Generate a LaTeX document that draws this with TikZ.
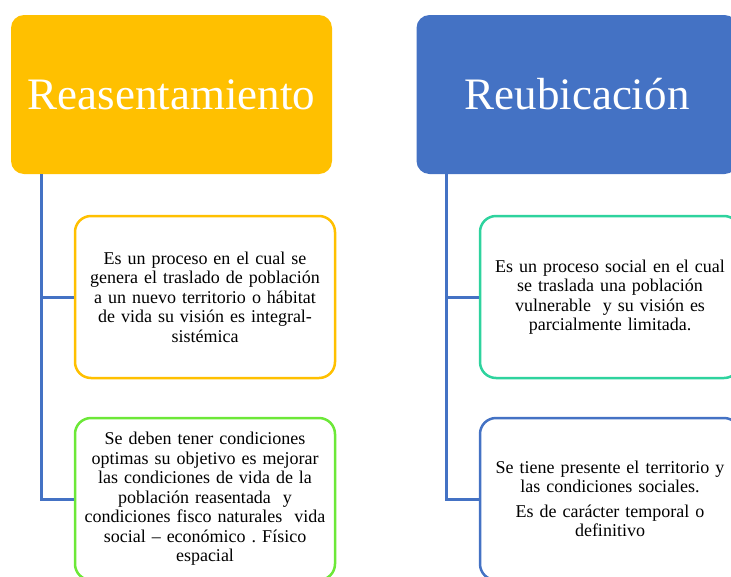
\documentclass[tikz,border=0pt]{standalone}
\usepackage{fontspec}
\setmainfont{Liberation Serif}
\frenchspacing
\definecolor{hdrgold}{HTML}{FFC000}
\definecolor{hdrblue}{HTML}{4472C4}
\definecolor{limegreen}{HTML}{6CE838}
\definecolor{tealgreen}{HTML}{2ED39E}
\begin{document}
\begin{tikzpicture}[x=1pt,y=-1pt,
		head/.style={rounded corners=13pt,minimum width=321pt,minimum height=159pt,inner sep=0pt,text=white,font=\fontsize{45}{50}\selectfont},
		card/.style={draw,line width=2.5pt,rounded corners=16pt,fill=white,minimum width=260pt,minimum height=162pt,inner sep=0pt,text width=244pt,align=center,font=\fontsize{18}{19.5}\selectfont},
		trunk/.style={draw=hdrblue,line width=3pt}]
	\useasboundingbox (0,0) rectangle (731,576);
	\clip (0,0) rectangle (731,576);
	% headers
	\node[head,fill=hdrgold] (reas) at (171.5,94.5) {Reasentamiento};
	\node[head,fill=hdrblue] (reub) at (577,94.5) {Reubicación};
	\coordinate (trunkL) at ([xshift=31pt]reas.south west);
	\coordinate (trunkR) at ([xshift=30pt]reub.south west);
	% left column
	\node[card,draw=hdrgold] (procL) at (205,297) {Es un proceso en el cual se\\genera el traslado de población\\a un nuevo territorio o hábitat\\de vida su visión es integral-\\sistémica};
	\node[card,draw=limegreen] (condL) at (205,499) {Se deben tener condiciones\\optimas su objetivo es mejorar\\las condiciones de vida de la\\población reasentada\ \ y\\condiciones fisco naturales\ \ vida\\social – económico . Físico\\espacial};
	% right column
	\node[card,draw=tealgreen] (procR) at (610,297) {Es un proceso social en el cual\\se traslada una población\\vulnerable\ \ y su visión es\\parcialmente\ limitada.};
	\node[card,draw=hdrblue] (condR) at (610,499) {Se tiene presente el territorio y\\las condiciones sociales.\\[5pt]Es de carácter temporal o\\definitivo};
	% connectors
	\draw[trunk] (trunkL) |- (procL.west);
	\draw[trunk] (trunkL) |- (condL.west);
	\draw[trunk] (trunkR) |- (procR.west);
	\draw[trunk] (trunkR) |- (condR.west);
\end{tikzpicture}
\end{document}
